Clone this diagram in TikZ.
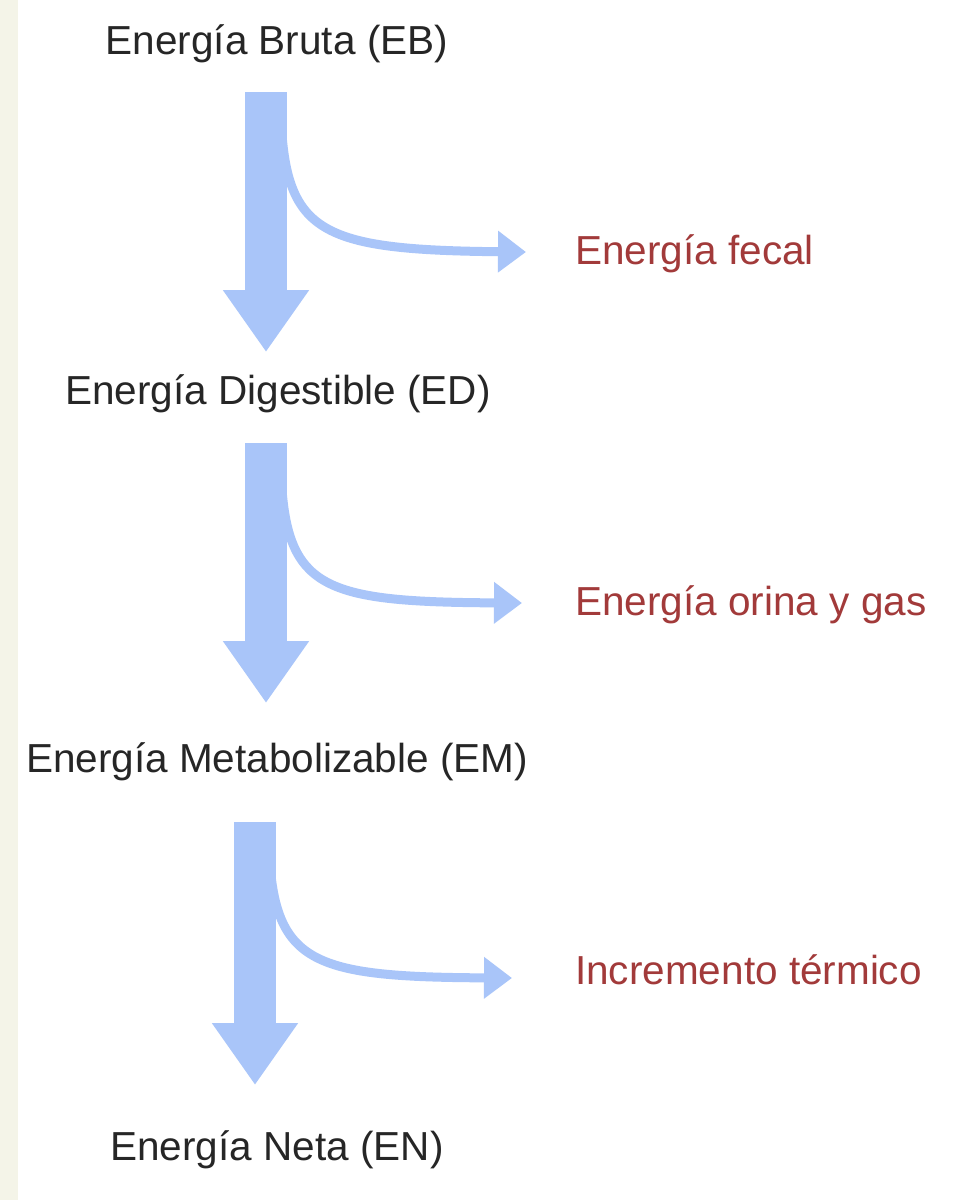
\documentclass[tikz,border=0pt]{standalone}
\usepackage{fontspec}
\setmainfont{Liberation Sans}
\usetikzlibrary{arrows.meta}
\definecolor{flow}{HTML}{A9C5F9}
\definecolor{loss}{HTML}{A23A3A}
\definecolor{strip}{HTML}{F4F4E8}
\begin{document}
\begin{tikzpicture}[x=1pt,y=-1pt,
  lbl/.style={font=\fontsize{40.5}{42}\selectfont, text=black!85, inner sep=0},
  losslbl/.style={font=\fontsize{40.5}{42}\selectfont, text=loss, inner sep=0, anchor=west},
  mainflow/.style={draw=flow, line width=42pt, -{Triangle[length=62pt,width=82pt]}},
  branch/.style={draw=flow, line width=9pt, -{Triangle[length=28pt,width=40pt]}}]
\useasboundingbox (0,0) rectangle (957,1200);
\fill[white] (0,0) rectangle (957,1200);
\fill[strip] (0,0) rectangle (18,1200);
\node[lbl] (eb) at (277,44) {Energía Bruta (EB)};
\node[lbl] (ed) at (278,394) {Energía Digestible (ED)};
\node[lbl] (em) at (277,762) {Energía Metabolizable (EM)};
\node[lbl] (en) at (277,1150) {Energía Neta (EN)};
\node[losslbl] (f) at (575,254) {Energía fecal};
\node[losslbl] (o) at (575,605) {Energía orina y gas};
\node[losslbl] (i) at (575,970) {Incremento térmico};
\coordinate (s1) at (266,92); \coordinate (t1) at (266,352);
\coordinate (s2) at (266,443); \coordinate (t2) at (266,703);
\coordinate (s3) at (255,822); \coordinate (t3) at (255,1085);
\draw[mainflow] (s1) -- (t1);
\draw[mainflow] (s2) -- (t2);
\draw[mainflow] (s3) -- (t3);
\coordinate (b1) at (282,135); \coordinate (e1) at (526,252);
\coordinate (b2) at (282,490); \coordinate (e2) at (522,603);
\coordinate (b3) at (270,865); \coordinate (e3) at (512,978);
\draw[branch] (b1) .. controls (290,235) and (330,250) .. (e1);
\draw[branch] (b2) .. controls (290,590) and (330,602) .. (e2);
\draw[branch] (b3) .. controls (278,965) and (320,977) .. (e3);
\end{tikzpicture}
\end{document}
